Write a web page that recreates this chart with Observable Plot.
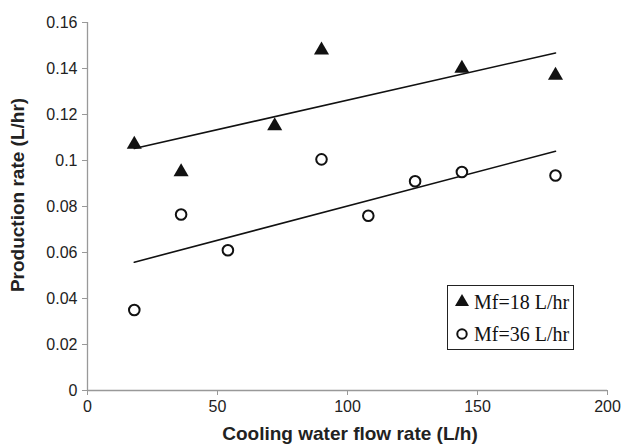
<!DOCTYPE html>
<html>
<head>
<meta charset="utf-8">
<script src="https://cdn.jsdelivr.net/npm/d3@7"></script>
<script src="https://cdn.jsdelivr.net/npm/@observablehq/plot@0.6"></script>
<style>
  html, body { margin: 0; padding: 0; background: #fff; }
  #wrap { position: relative; width: 622px; height: 447px; }
  #legend {
    position: absolute; left: 447px; top: 285px; width: 127px; height: 65px;
    border: 1px solid #222; box-sizing: border-box; background: #fff;
    font-family: "Liberation Serif", "Times New Roman", serif; font-size: 20px; color: #111;
  }
  #legend .row { position: absolute; left: 0; display: flex; align-items: center; height: 24px; }
  #legend svg { display: block; }
</style>
</head>
<body>
<div id="wrap"></div>
<script>
// Data
const seriesNames = ["Mf=18 L/hr", "Mf=36 L/hr"];
const flowMf18 = [18, 36, 72, 90, 144, 180];
const rateMf18 = [0.107, 0.095, 0.115, 0.148, 0.140, 0.137];
const flowMf36 = [18, 36, 54, 90, 108, 126, 144, 180];
const rateMf36 = [0.035, 0.0765, 0.061, 0.1005, 0.076, 0.091, 0.095, 0.0935];
const xTicks = [0, 50, 100, 150, 200];
const yTicks = [0, 0.02, 0.04, 0.06, 0.08, 0.1, 0.12, 0.14, 0.16];
const xTitle = "Cooling water flow rate (L/h)";
const yTitle = "Production rate (L/hr)";

const d18 = flowMf18.map((x, i) => ({x, y: rateMf18[i], s: seriesNames[0]}));
const d36 = flowMf36.map((x, i) => ({x, y: rateMf36[i], s: seriesNames[1]}));

const tickFont = "Liberation Sans, Arial, sans-serif";

const chart = Plot.plot({
  width: 622,
  height: 447,
  marginLeft: 87,
  marginRight: 15,
  marginTop: 22,
  marginBottom: 57,
  style: { fontFamily: tickFont, fontSize: "16px", color: "#222", background: "#fff" },
  x: { domain: [0, 200], ticks: xTicks, tickFormat: d => String(d) },
  y: { domain: [0, 0.16], ticks: yTicks, tickFormat: d => String(d) },
  marks: [
    Plot.ruleX([0], { stroke: "#999", strokeWidth: 1.3 }),
    Plot.ruleY([0], { stroke: "#999", strokeWidth: 1.3 }),
    Plot.axisX({ ticks: xTicks, tickSize: 5, tickPadding: 5, fontSize: 16, stroke: "#999", fill: "#222", label: null, tickFormat: d => String(d) }),
    Plot.axisY({ ticks: yTicks, tickSize: 5, tickPadding: 5, fontSize: 16, stroke: "#999", fill: "#222", label: null, tickFormat: d => String(d) }),
    Plot.linearRegressionY(d18, { x: "x", y: "y", ci: 0, stroke: "#111", strokeWidth: 1.6 }),
    Plot.linearRegressionY(d36, { x: "x", y: "y", ci: 0, stroke: "#111", strokeWidth: 1.6 }),
    Plot.dot(d18, { x: "x", y: "y", symbol: "triangle", r: 5.6, fill: "#111", stroke: "none" }),
    Plot.dot(d36, { x: "x", y: "y", symbol: "circle", r: 5.3, fill: "white", stroke: "#111", strokeWidth: 2 })
  ]
});

const svg = d3.select(chart);
// axis titles
svg.append("text")
  .attr("x", 350).attr("y", 440)
  .attr("text-anchor", "middle")
  .attr("font-family", tickFont).attr("font-size", 19).attr("font-weight", "bold").attr("fill", "#222")
  .text(xTitle);
svg.append("text")
  .attr("transform", "translate(24,195) rotate(-90)")
  .attr("text-anchor", "middle")
  .attr("font-family", tickFont).attr("font-size", 19).attr("font-weight", "bold").attr("fill", "#222")
  .text(yTitle);

const wrap = document.getElementById("wrap");
wrap.appendChild(chart);

// legend
const legend = document.createElement("div");
legend.id = "legend";
const symbols = [d3.symbolTriangle, d3.symbolCircle];
seriesNames.forEach((name, i) => {
  const row = document.createElement("div");
  row.className = "row";
  row.style.top = (i === 0 ? 4 : 36) + "px";
  row.style.left = "6px";
  const s = d3.create("svg").attr("width", 20).attr("height", 20);
  s.append("path")
    .attr("transform", "translate(8,10)")
    .attr("d", d3.symbol(symbols[i], i === 0 ? 85 : 70)())
    .attr("fill", i === 0 ? "#111" : "white")
    .attr("stroke", i === 0 ? "none" : "#111")
    .attr("stroke-width", 2);
  row.appendChild(s.node());
  const t = document.createElement("span");
  t.textContent = name;
  t.style.marginLeft = "0px";
  row.appendChild(t);
  legend.appendChild(row);
});
wrap.appendChild(legend);
</script>
</body>
</html>
